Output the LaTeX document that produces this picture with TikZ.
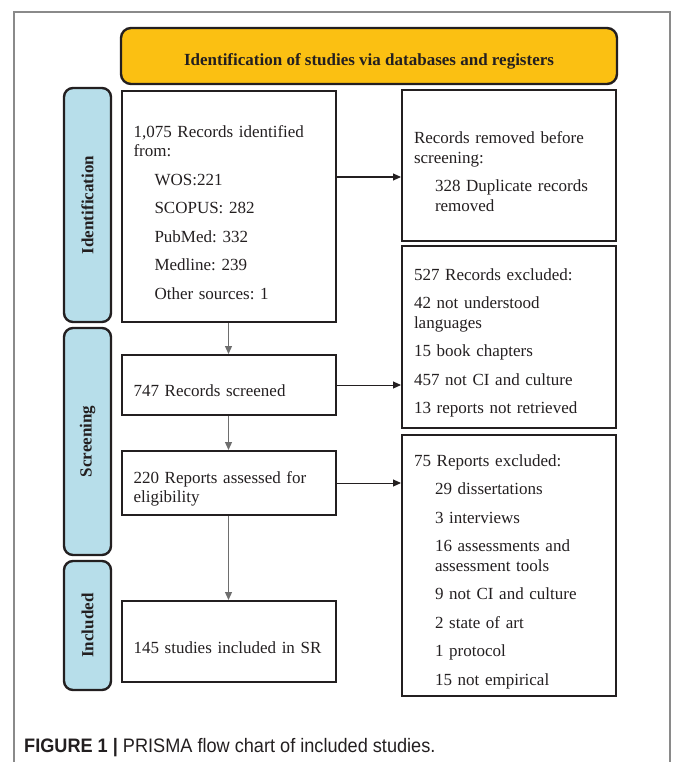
\documentclass[tikz,border=0pt]{standalone}
\usepackage{fontspec}
\setmainfont{Liberation Serif}
\newfontfamily\capfont[FakeStretch=0.93]{Liberation Sans}
\usetikzlibrary{arrows.meta}

\definecolor{prismaGold}{HTML}{FBC012}
\definecolor{prismaBlue}{HTML}{B7DEEA}
\definecolor{prismaInk}{HTML}{231F20}
\definecolor{prismaGray}{HTML}{6E6E6E}
\definecolor{prismaFrame}{HTML}{8A8A8A}

\tikzset{
  boxfont/.style={font=\fontsize{17}{19.5}\selectfont\frenchspacing},
  header/.style={draw=prismaInk, fill=prismaGold, line width=2.4pt, rounded corners=10pt,
    minimum width=496pt, minimum height=56pt, text height=20pt, text depth=0pt,
    font=\fontsize{17}{19.5}\selectfont\bfseries},
  phase/.style={draw=prismaInk, fill=prismaBlue, line width=2.4pt, rounded corners=9pt,
    minimum width=47pt, inner sep=0pt, font=\fontsize{17}{19.5}\selectfont\bfseries},
  flowbox/.style={draw=prismaInk, line width=2pt, minimum width=214pt, inner xsep=12pt,
    inner ysep=0pt, text width=190pt, align=left, boxfont,
    execute at begin node={\rule{0pt}{24pt}}},
  flowarrow/.style={->, line width=1pt, draw=prismaInk},
  downarrow/.style={->, line width=1.2pt, draw=prismaGray},
}
\newcommand{\gapline}{\\[9pt]}
\newcommand{\subin}{\hspace*{21pt}}

\begin{document}
\begin{tikzpicture}[x=1pt, y=-1pt, >={Triangle[length=8pt,width=7pt]}, text=prismaInk]
  \useasboundingbox (0,0) rectangle (673,762);
  \draw[prismaFrame, line width=1.5pt] (14,762) -- (14,12) -- (670,12) -- (670,762);

  \node[header] (head) at (369,56) {Identification of studies via databases and registers};

  % phases on the left
  \node[phase, minimum height=234pt] (idphase) at (87.5,205) {\rotatebox{90}{Identification}};
  \node[phase, minimum height=227pt] (scphase) at (87.5,441.5) {\rotatebox{90}{Screening}};
  \node[phase, minimum height=129pt] (inphase) at (87.5,625.5) {\rotatebox{90}{Included}};

  % main column
  \node[flowbox, minimum height=231pt] (identified) at (228.5,206.5) {1,075 Records identified\\
    from:\gapline
    \subin WOS:221\gapline
    \subin SCOPUS: 282\gapline
    \subin PubMed: 332\gapline
    \subin Medline: 239\gapline
    \subin Other sources: 1};
  \node[flowbox, minimum height=60pt] (screened) at (228.5,385) {747 Records screened};
  \node[flowbox, minimum height=64pt] (assessed) at (228.5,483) {220 Reports assessed for\\eligibility};
  \node[flowbox, minimum height=81pt] (included) at (228.5,641.5) {145 studies included in SR};

  % exclusions
  \node[flowbox, minimum height=151pt] (removed) at (509,165.5) {Records removed before\\
    screening:\gapline
    \subin 328 Duplicate records\\
    \subin removed};
  \node[flowbox, minimum height=182pt] (excluded) at (509,337) {527 Records excluded:\gapline
    42 not understood\\
    languages\gapline
    15 book chapters\gapline
    457 not CI and culture\gapline
    13 reports not retrieved};
  \node[flowbox, minimum height=261pt] (repexcl) at (509,565.5) {75 Reports excluded:\gapline
    \subin 29 dissertations\gapline
    \subin 3 interviews\gapline
    \subin 16 assessments and\\
    \subin assessment tools\gapline
    \subin 9 not CI and culture\gapline
    \subin 2 state of art\gapline
    \subin 1 protocol\gapline
    \subin 15 not empirical};

  \path (identified.east) ++(0,-29.5) coordinate (idout);
  \draw[flowarrow] (idout) -- (idout -| removed.west);
  \draw[flowarrow] (screened.east) -- (screened.east -| excluded.west);
  \draw[flowarrow] (assessed.east) -- (assessed.east -| repexcl.west);
  \draw[downarrow] (identified) -- (screened);
  \draw[downarrow] (screened) -- (assessed);
  \draw[downarrow] (assessed) -- (included);

  \node[anchor=base west, inner sep=0pt, font=\capfont\fontsize{19.5}{22}\selectfont] (caption) at (24,752)
    {\textbf{FIGURE 1 |} PRISMA flow chart of included studies.};
\end{tikzpicture}
\end{document}
